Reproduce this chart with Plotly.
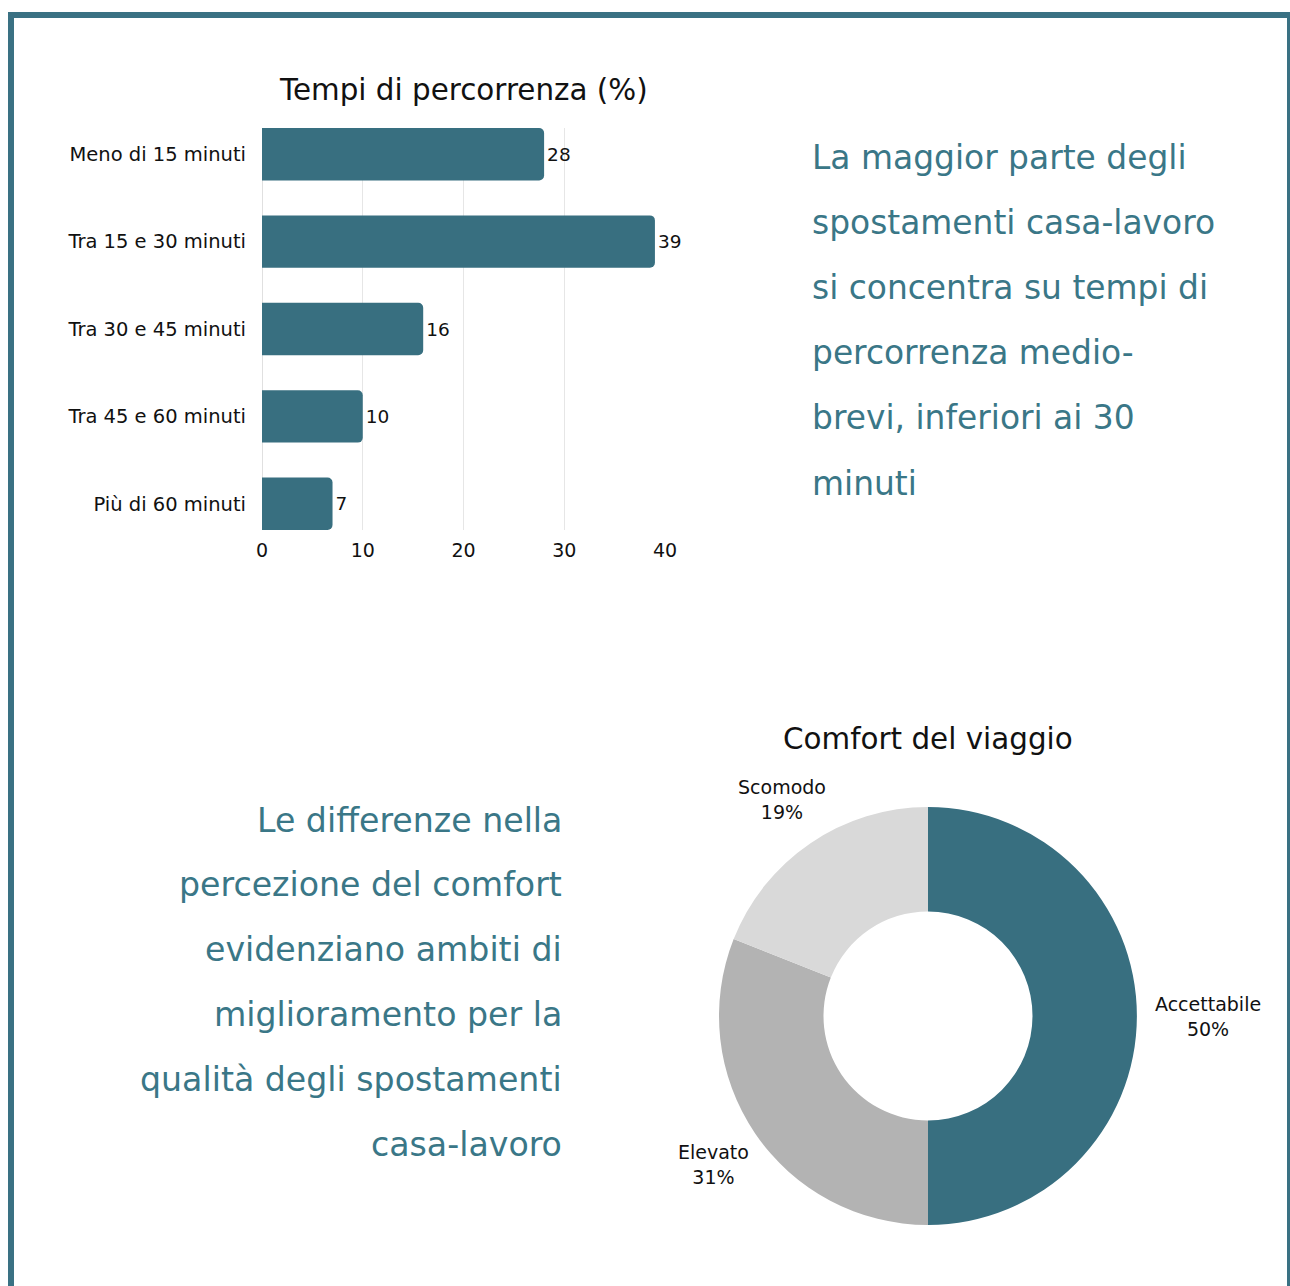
import math
import plotly.graph_objects as go

W, H = 1290, 1286

# Data
bar_categories = ["Meno di 15 minuti", "Tra 15 e 30 minuti", "Tra 30 e 45 minuti",
                  "Tra 45 e 60 minuti", "Più di 60 minuti"]
bar_values = [28, 39, 16, 10, 7]
bar_ticks = [0, 10, 20, 30, 40]

pie_labels = ["Accettabile", "Elevato", "Scomodo"]
pie_values = [50, 31, 19]

bar_title = "Tempi di percorrenza (%)"
pie_title = "Comfort del viaggio"
text_right = ["La maggior parte degli", "spostamenti casa-lavoro", "si concentra su tempi di",
              "percorrenza medio-", "brevi, inferiori ai 30", "minuti"]
text_left = ["Le differenze nella", "percezione del comfort", "evidenziano ambiti di",
             "miglioramento per la", "qualità degli spostamenti", "casa-lavoro"]

TEAL = "#386f80"
TEXT_TEAL = "#3a7787"
FONT = "DejaVu Sans"

def px(x):
    return x / W

def py(y):
    return 1 - y / H

# pie geometry (pixels)
PIE_CX, PIE_CY, PIE_R = 928, 1016, 209

fig = go.Figure()

fig.add_trace(go.Bar(
    y=bar_categories, x=bar_values, orientation="h",
    marker=dict(color=TEAL, line=dict(width=0)),
    text=[str(v) for v in bar_values], textposition="outside",
    textfont=dict(size=18.5, color="#111111", family=FONT),
    cliponaxis=False, width=0.6, xaxis="x", yaxis="y",
    hoverinfo="skip",
))

fig.add_trace(go.Pie(
    labels=pie_labels, values=pie_values, hole=0.5, sort=False,
    direction="clockwise", rotation=0,
    marker=dict(colors=[TEAL, "#b3b3b3", "#d9d9d9"], line=dict(width=0)),
    textinfo="none", automargin=False,
    domain=dict(x=[px(PIE_CX - PIE_R), px(PIE_CX + PIE_R)],
                y=[py(PIE_CY + PIE_R), py(PIE_CY - PIE_R)]),
    showlegend=False, hoverinfo="skip",
))

annotations = [
    dict(text=bar_title, x=px(463), y=py(90), xref="paper", yref="paper",
         showarrow=False, font=dict(size=29.4, color="#111111", family=FONT),
         xanchor="center", yanchor="middle"),
    dict(text=pie_title, x=px(928), y=py(739), xref="paper", yref="paper",
         showarrow=False, font=dict(size=29.4, color="#111111", family=FONT),
         xanchor="center", yanchor="middle"),
]
for i, line in enumerate(text_right):
    annotations.append(dict(text=line, x=px(810), y=py(157 + 65.2 * i), xref="paper", yref="paper",
                            showarrow=False, font=dict(size=32.9, color=TEXT_TEAL, family=FONT),
                            xanchor="left", yanchor="middle"))
for i, line in enumerate(text_left):
    annotations.append(dict(text=line, x=px(564), y=py(820 + 64.8 * i), xref="paper", yref="paper",
                            showarrow=False, font=dict(size=33.2, color=TEXT_TEAL, family=FONT),
                            xanchor="right", yanchor="middle"))

# pie labels placed from the slice mid-angles
total = sum(pie_values)
cum = 0
for lab, val in zip(pie_labels, pie_values):
    mid = (cum + val / 2) / total * 2 * math.pi
    cum += val
    dx, dy = math.sin(mid), -math.cos(mid)
    w = len(lab) * 10.3
    h = 48
    cx = PIE_CX + dx * (PIE_R + 14) + dx * w / 2
    cy = PIE_CY + dy * (PIE_R + 14) + dy * h / 2
    if dy < -0.3:
        cy -= 12
    elif dy > 0.3:
        cy += 10
    pct = round(val / total * 100)
    annotations.append(dict(text=f"{lab}<br>{pct}%", x=px(cx), y=py(cy), xref="paper", yref="paper",
                            showarrow=False, align="center",
                            font=dict(size=19, color="#111111", family=FONT),
                            xanchor="center", yanchor="middle"))

shapes = [
    dict(type="line", xref="paper", yref="paper", x0=px(8), x1=px(1290), y0=py(15), y1=py(15),
         line=dict(color="#3a7183", width=6)),
    dict(type="line", xref="paper", yref="paper", x0=px(11), x1=px(11), y0=py(12), y1=py(1286),
         line=dict(color="#3a7183", width=6)),
    dict(type="line", xref="paper", yref="paper", x0=px(1288.5), x1=px(1288.5), y0=py(12), y1=py(1286),
         line=dict(color="#3a7183", width=3)),
]

fig.update_layout(
    width=W, height=H, margin=dict(l=0, r=0, t=0, b=0, autoexpand=False),
    paper_bgcolor="white", plot_bgcolor="white",
    font=dict(family=FONT, color="#111111"),
    showlegend=False, barcornerradius=5,
    xaxis=dict(domain=[px(262), px(665)], range=[0, 40], tickvals=bar_ticks,
               showgrid=True, gridcolor="#e6e6e6", gridwidth=1,
               zeroline=True, zerolinecolor="#e0e0e0", zerolinewidth=1,
               showline=False, ticks="", tickfont=dict(size=19, color="#111111"),
               ticklabelstandoff=7, automargin=False, fixedrange=True),
    yaxis=dict(domain=[py(530), py(128)], range=[4.3, -0.3], type="category",
               showgrid=False, zeroline=False, showline=False, ticks="",
               ticklabelstandoff=15, automargin=False,
               tickfont=dict(size=19.5, color="#111111"), fixedrange=True),
    annotations=annotations, shapes=shapes,
)

fig.write_html("out.html", config=dict(displayModeBar=False),
               post_script="document.body.style.margin='0';document.body.style.overflow='hidden';")
